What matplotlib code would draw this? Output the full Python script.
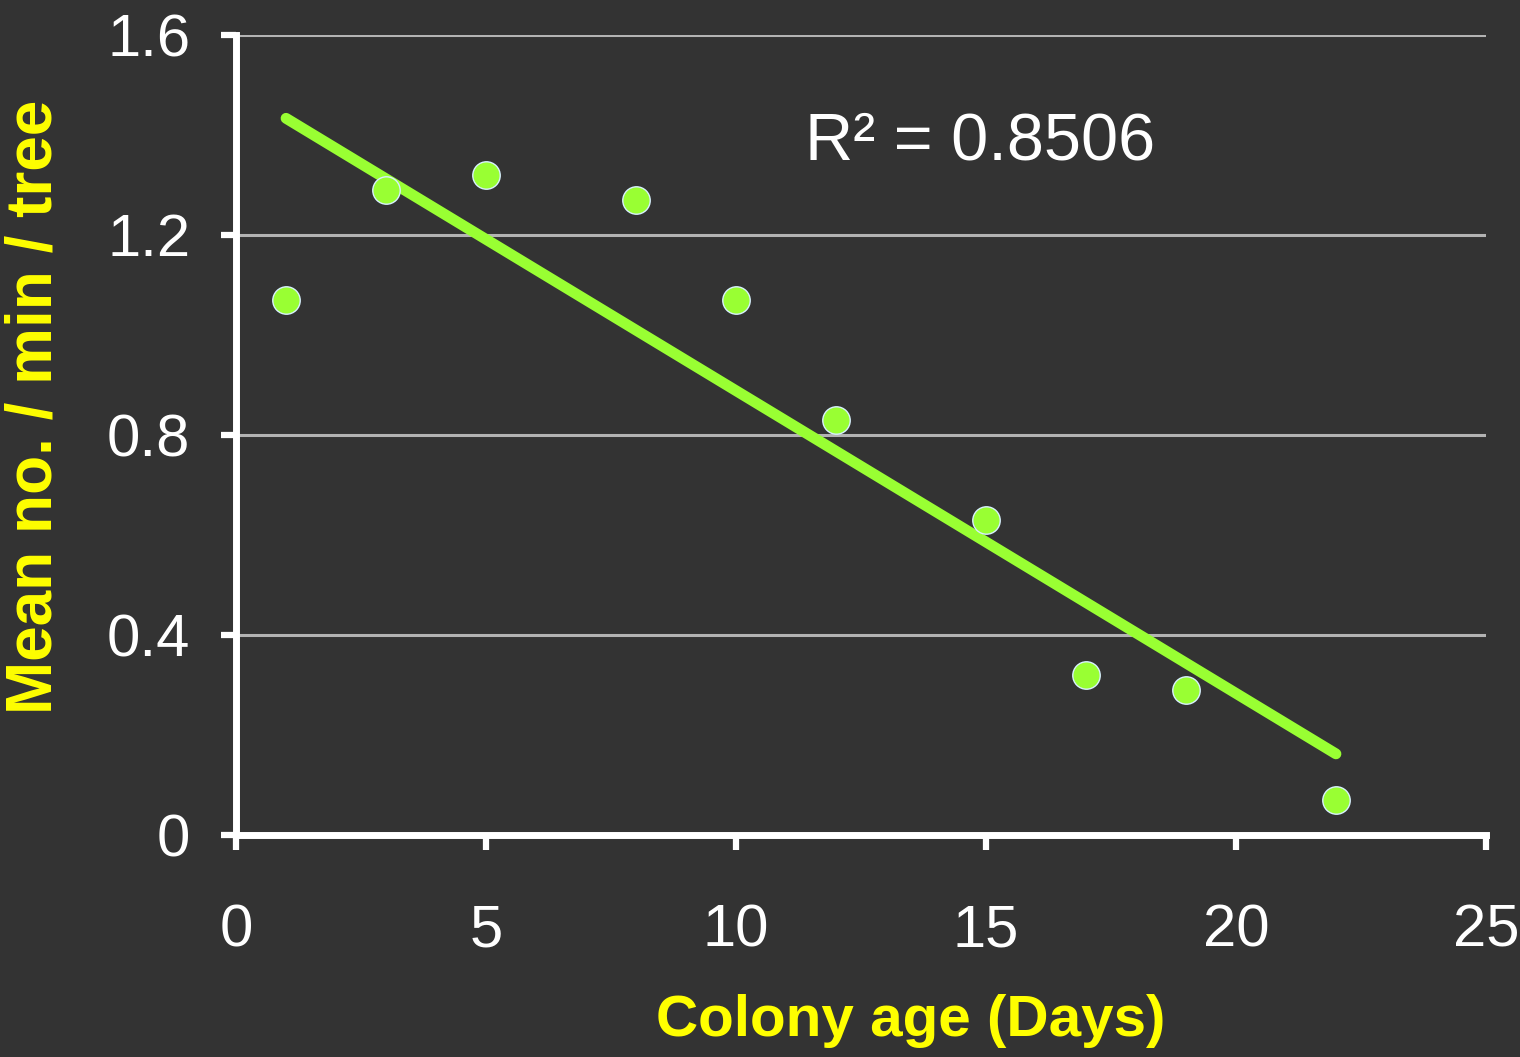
import matplotlib
matplotlib.use("Agg")
import matplotlib.pyplot as plt
import numpy as np

# colony age (days) vs mean no. / min / tree
days  = [1, 3, 5, 8, 10, 12, 15, 17, 19, 22]
count = [1.07, 1.29, 1.32, 1.27, 1.07, 0.83, 0.63, 0.32, 0.29, 0.07]
xticks = [0, 5, 10, 15, 20, 25]
yticks = [0, 0.4, 0.8, 1.2, 1.6]
ytick_labels = ["0", "0.4", "0.8", "1.2", "1.6"]

bg     = "#333333"
green  = "#99ff33"
yellow = "#ffff00"

plt.rcParams['font.family'] = ['Liberation Sans', 'DejaVu Sans']

fig = plt.figure(figsize=(15.2, 10.57), dpi=100, facecolor=bg)
ax = fig.add_axes([0.1553, 0.21, 0.8223, 0.7569])
ax.set_facecolor(bg)

x = np.array(days, dtype=float)
y = np.array(count)
slope, icpt = np.polyfit(x, y, 1)
fit = slope * x + icpt
r2 = 1 - np.sum((y - fit) ** 2) / np.sum((y - y.mean()) ** 2)

ax.plot([x[0], x[-1]], [slope * x[0] + icpt, slope * x[-1] + icpt],
        color=green, lw=7.8, solid_capstyle='round', zorder=3)
ax.scatter(x, y, s=390, color=green, edgecolors="#d8f0ff", linewidths=1.0, zorder=4)

ax.text(0.455, 0.866, "R² = %.4f" % r2, transform=ax.transAxes,
        color="white", fontsize=48, ha='left', va='center')

ax.set_xlim(0, 25)
ax.set_ylim(0, 1.6)
ax.set_xticks(xticks)
ax.set_yticks(yticks)
ax.set_yticklabels(ytick_labels)
ax.yaxis.grid(True, color="#b3b3b3", lw=2.2)
ax.set_axisbelow(True)

for s in ['top', 'right']:
    ax.spines[s].set_visible(False)
for s in ['left', 'bottom']:
    ax.spines[s].set_color("white")
    ax.spines[s].set_linewidth(5)

ax.tick_params(axis='both', colors="white", width=4.5, length=11, direction='out',
               labelsize=43)
ax.tick_params(axis='x', pad=38)
ax.tick_params(axis='y', pad=22)

ax.set_xlabel("Colony age (Days)", color=yellow, fontsize=42, fontweight='bold')
ax.xaxis.set_label_coords(0.54, -0.199)
ax.set_ylabel("Mean no. / min / tree", color=yellow, fontsize=46, fontweight='bold')
ax.yaxis.set_label_coords(-0.137, 0.535)

fig.savefig("out.png", dpi=100, facecolor=bg)
